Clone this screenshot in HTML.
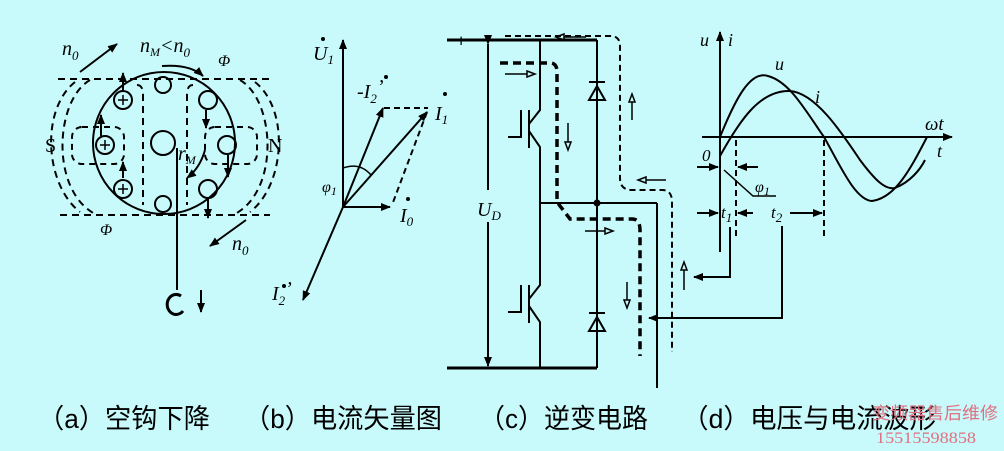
<!DOCTYPE html>
<html><head><meta charset="utf-8"><style>
html,body{margin:0;padding:0;background:#c8fafb;}
svg{display:block}
text{font-family:"Liberation Serif",serif;fill:#000}
.cap{font-family:"Liberation Sans","Noto Sans CJK SC",sans-serif;font-size:27px}
</style></head><body>
<svg width="1004" height="451" viewBox="0 0 1004 451" xmlns="http://www.w3.org/2000/svg">
<defs>
<marker id="ar" markerWidth="10" markerHeight="8" refX="9" refY="4" orient="auto" markerUnits="userSpaceOnUse"><path d="M0,0 L10,4 L0,8 Z" fill="#000"/></marker>
</defs>
<rect width="1004" height="451" fill="#c8fafb"/>
<g stroke="#000" fill="none" stroke-width="2">
<!-- (a) motor -->
<line x1="58" y1="79" x2="272" y2="79" stroke-dasharray="7,5"/>
<line x1="60" y1="215" x2="270" y2="215" stroke-dasharray="7,5"/>
<path d="M90,80 C55,100 50,190 95,214" stroke-dasharray="7,5"/>
<path d="M75,82 C40,110 45,185 80,212" stroke-dasharray="7,5"/>
<path d="M240,80 C275,100 280,190 235,214" stroke-dasharray="7,5"/>
<path d="M255,82 C290,110 285,185 250,212" stroke-dasharray="7,5"/>
<rect x="72" y="127" width="52" height="37" rx="10" stroke-dasharray="6,5"/>
<rect x="205" y="127" width="52" height="37" rx="10" stroke-dasharray="6,5"/>
<path d="M137,85 Q143,85 143,95 V205" stroke-dasharray="7,5"/>
<path d="M193,85 Q187,85 187,95 V205" stroke-dasharray="7,5"/>
<circle cx="164" cy="143" r="71" fill="none"/>
<circle cx="163" cy="85" r="8"/><circle cx="163" cy="204" r="8"/>
<circle cx="163" cy="143" r="12"/>
<circle cx="123" cy="100" r="9"/><circle cx="105" cy="145" r="9"/><circle cx="123" cy="189" r="9"/>
<circle cx="208" cy="100" r="9"/><circle cx="227" cy="145" r="9"/><circle cx="208" cy="189" r="9"/>
<path d="M118,100h10M123,95v10M100,145h10M105,140v10M118,189h10M123,184v10" stroke-width="1.5"/>
<line x1="123" y1="90" x2="123" y2="73" marker-end="url(#ar)"/>
<line x1="101" y1="136" x2="101" y2="115" marker-end="url(#ar)"/>
<line x1="123" y1="178" x2="123" y2="162" marker-end="url(#ar)"/>
<line x1="206" y1="110" x2="206" y2="128" marker-end="url(#ar)"/>
<line x1="228" y1="155" x2="228" y2="177" marker-end="url(#ar)"/>
<line x1="208" y1="198" x2="208" y2="218" marker-end="url(#ar)"/>
<line x1="80" y1="72" x2="117" y2="44" marker-end="url(#ar)"/>
<path d="M162,66 Q190,64 203,76" marker-end="url(#ar)"/>
<line x1="246" y1="220" x2="210" y2="246" marker-end="url(#ar)"/>
<path d="M205,150 Q200,168 187,178" marker-end="url(#ar)"/>
<line x1="177" y1="148" x2="177" y2="290"/>
<path d="M181,296 A9,10 0 1 0 183,311" stroke-width="3"/>
<line x1="201" y1="290" x2="201" y2="312" marker-end="url(#ar)"/>
<!-- (b) vectors -->
<line x1="343" y1="207" x2="343" y2="40" marker-end="url(#ar)"/>
<line x1="343" y1="207" x2="383" y2="108" marker-end="url(#ar)"/>
<line x1="343" y1="207" x2="427" y2="112" marker-end="url(#ar)"/>
<line x1="343" y1="207" x2="390" y2="207" marker-end="url(#ar)"/>
<line x1="343" y1="207" x2="303" y2="300" marker-end="url(#ar)"/>
<line x1="384" y1="108" x2="428" y2="108" stroke-dasharray="6,4"/>
<line x1="427" y1="112" x2="392" y2="205" stroke-dasharray="6,4"/>
<path d="M343,168 Q360,162 371,175" stroke-width="1.5"/>
<!-- (c) circuit -->
<line x1="447" y1="40" x2="597" y2="40" stroke-width="3"/>
<line x1="447" y1="368" x2="597" y2="368" stroke-width="3"/>
<line x1="488" y1="44" x2="488" y2="190" marker-start="url(#ar)"/>
<line x1="488" y1="222" x2="488" y2="366" marker-end="url(#ar)"/>
<path d="M540,40 V110 L529,124 M529,131 L540,147 V285 L529,299 M529,306 L540,322 V368"/>
<line x1="529" y1="110" x2="529" y2="148"/><line x1="529" y1="285" x2="529" y2="323"/>
<path d="M521,110 V137 H508 M521,285 V312 H508"/>
<line x1="597" y1="40" x2="597" y2="368"/>
<line x1="540" y1="203" x2="657" y2="203"/>
<line x1="657" y1="203" x2="657" y2="388"/>
<path d="M589,100 L605,100 L597,86 Z M589,82 H605 M589,331 L605,331 L597,317 Z M589,313 H605"/>
<path d="M500,63 H550 Q557,63 557,72 V202 L570,219 H632 Q640,219 640,230 V356" stroke-width="3.5" stroke-dasharray="8,5"/>
<path d="M505,36 H610 Q620,36 620,46 V178 Q620,190 632,190 H662 Q672,190 672,202 V352" stroke-dasharray="6,4"/>
<!-- (d) waveform -->
<line x1="720" y1="252" x2="720" y2="32" marker-end="url(#ar)"/>
<line x1="702" y1="137" x2="952" y2="137" marker-end="url(#ar)"/>
<path d="M720,137 C735,100 750,70 768,76 C790,82 805,110 824,137 C840,165 855,200 872,201 C895,198 910,170 927,137"/>
<path d="M720,156 C740,120 760,90 790,91 C815,93 840,130 860,160 C875,180 885,190 895,188 C910,182 920,170 925,160"/>
<line x1="736" y1="140" x2="736" y2="240" stroke-dasharray="6,4"/>
<line x1="824" y1="140" x2="824" y2="240" stroke-dasharray="6,4"/>
<line x1="697" y1="167" x2="718" y2="167" marker-end="url(#ar)"/>
<line x1="758" y1="167" x2="738" y2="167" marker-end="url(#ar)"/>
<path d="M724,170 L753,196 H776" stroke-width="1.5"/>
<line x1="697" y1="213" x2="718" y2="213" marker-end="url(#ar)"/>
<line x1="753" y1="213" x2="738" y2="213" marker-end="url(#ar)"/>
<line x1="790" y1="213" x2="822" y2="213" marker-end="url(#ar)"/>
<path d="M730,227 V277 H694" marker-end="url(#ar)"/>
<path d="M782,226 V318 H649" marker-end="url(#ar)"/>
<!-- hollow current arrows -->
<g stroke-width="1.5">
<path d="M505,74 H527"/><path d="M527,71 L535,74 L527,77 Z"/>
<path d="M586,37 H564"/><path d="M564,34 L556,37 L564,40 Z"/>
<path d="M568,123 V142"/><path d="M565,142 L568,150 L571,142 Z"/>
<path d="M632,120 V102"/><path d="M629,102 L632,94 L635,102 Z"/>
<path d="M666,180 H646"/><path d="M646,177 L638,180 L646,183 Z"/>
<path d="M585,231 H605"/><path d="M605,228 L613,231 L605,234 Z"/>
<path d="M627,282 V300"/><path d="M624,300 L627,308 L630,300 Z"/>
<path d="M684,290 V270"/><path d="M681,270 L684,262 L687,270 Z"/>
</g>
</g>
<g font-style="italic" font-size="20">
<text x="62" y="55">n<tspan font-size="13" dy="5">0</tspan></text>
<text x="140" y="52">n<tspan font-size="12" dy="4">M</tspan><tspan dy="-4">&lt;n</tspan><tspan font-size="13" dy="5">0</tspan></text>
<text x="218" y="66" font-size="16">Φ</text>
<text x="100" y="235" font-size="16">Φ</text>
<text x="232" y="250">n<tspan font-size="13" dy="5">0</tspan></text>
<text x="178" y="160">r<tspan font-size="12" dy="4">M</tspan></text>
<text x="313" y="60">U<tspan font-size="13" dy="4">1</tspan></text>
<text x="357" y="98">-I<tspan font-size="13" dy="5">2</tspan><tspan dy="-10">’</tspan></text>
<text x="435" y="120">I<tspan font-size="13" dy="4">1</tspan></text>
<text x="400" y="222">I<tspan font-size="13" dy="4">0</tspan></text>
<text x="272" y="300">I<tspan font-size="13" dy="5">2</tspan><tspan dy="-10">’</tspan></text>
<text x="322" y="192" font-size="16">φ<tspan font-size="12" dy="3">1</tspan></text>
<text x="477" y="216">U<tspan font-size="13" dy="4">D</tspan></text>
<text x="700" y="46" font-size="18">u</text><text x="728" y="46" font-size="18">i</text>
<text x="775" y="70" font-size="18">u</text>
<text x="815" y="103" font-size="18">i</text>
<text x="925" y="130" font-size="19">ωt</text>
<text x="937" y="157" font-size="18">t</text>
<text x="702" y="161" font-size="17">0</text>
<text x="755" y="192" font-size="16">φ<tspan font-size="12" dy="3">1</tspan></text>
<text x="721" y="218" font-size="17">t<tspan font-size="13" dy="4">1</tspan></text>
<text x="771" y="218" font-size="17">t<tspan font-size="13" dy="4">2</tspan></text>
</g>
<text x="45" y="152" font-size="20">S</text>
<text x="268" y="152" font-size="20">N</text>
<text x="456" y="47" font-size="18" font-weight="bold">+</text>
<g fill="#000"><circle cx="597" cy="203" r="3.5"/>
<circle cx="323" cy="39" r="2"/><circle cx="386" cy="77" r="2"/><circle cx="445" cy="94" r="2"/><circle cx="408" cy="199" r="2"/><circle cx="284" cy="286" r="2"/></g>
<text class="cap" x="38" y="428" textLength="172" lengthAdjust="spacingAndGlyphs">（a）空钩下降</text>
<text class="cap" x="244" y="428" textLength="198" lengthAdjust="spacingAndGlyphs">（b）电流矢量图</text>
<text class="cap" x="479" y="428" textLength="169" lengthAdjust="spacingAndGlyphs">（c）逆变电路</text>
<text class="cap" x="682" y="428" textLength="254" lengthAdjust="spacingAndGlyphs">（d）电压与电流波形</text>
<text x="872" y="419" font-family="Liberation Sans,Noto Sans CJK SC,sans-serif" font-size="17" style="fill:#e07080" textLength="126" lengthAdjust="spacingAndGlyphs">变频器售后维修</text>
<text x="876" y="443" font-family="Liberation Sans,sans-serif" font-size="16" style="fill:#e07080" textLength="100" lengthAdjust="spacingAndGlyphs">15515598858</text>
</svg>
</body></html>
